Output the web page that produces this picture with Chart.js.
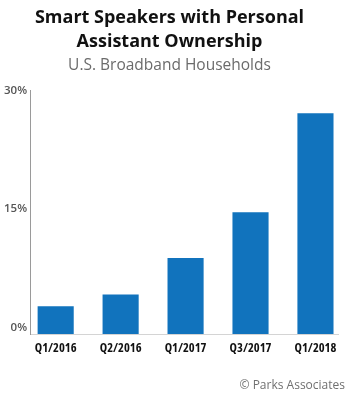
<!DOCTYPE html>
<html>
<head>
<meta charset="utf-8">
<script src="https://cdn.jsdelivr.net/npm/chart.js@4"></script>
<style>
  html, body { margin: 0; padding: 0; background: #ffffff; }
  #wrap { width: 350px; height: 400px; position: relative; }
</style>
</head>
<body>
<div id="wrap"><canvas id="c" width="350" height="400"></canvas></div>
<script>
const categories = ['Q1/2016', 'Q2/2016', 'Q1/2017', 'Q3/2017', 'Q1/2018'];
const ownership = [2.7, 4.2, 8.8, 14.6, 27.1];
const yTicks = [0, 15, 30];
const titleLines = ['Smart Speakers with Personal', 'Assistant Ownership'];
const subtitleText = 'U.S. Broadband Households';
const sourceText = '\u00A9 Parks Associates';

const sourcePlugin = {
  id: 'sourceNote',
  afterDraw(chart) {
    const ctx = chart.ctx;
    ctx.save();
    ctx.font = '12px "Open Sans"';
    ctx.fillStyle = '#707070';
    ctx.textAlign = 'right';
    ctx.textBaseline = 'middle';
    ctx.fillText(sourceText, 345, 386);
    ctx.restore();
  }
};

new Chart(document.getElementById('c'), {
  type: 'bar',
  data: {
    labels: categories,
    datasets: [{
      data: ownership.map((v, i) => ({ x: i, y: v })),
      backgroundColor: '#1173BD',
      borderWidth: 0,
      base: -0.8,
      barPercentage: 0.556,
      categoryPercentage: 1
    }]
  },
  options: {
    responsive: false,
    animation: false,
    devicePixelRatio: 1,
    layout: { padding: { left: 1, right: 12, top: 0, bottom: 37 } },
    plugins: {
      legend: { display: false },
      tooltip: { enabled: false },
      title: {
        display: true,
        text: titleLines,
        color: '#111111',
        font: { family: '"Open Sans"', size: 18, weight: 'bold', lineHeight: 1.33 },
        padding: { top: 6, bottom: 1 }
      },
      subtitle: {
        display: true,
        text: subtitleText,
        color: '#6b6b6b',
        font: { family: '"Open Sans"', size: 15.5, lineHeight: 1.25 },
        padding: { top: 1, bottom: 15 }
      }
    },
    scales: {
      x: {
        type: 'linear',
        offset: false,
        min: -0.394,
        max: 4.347,
        afterBuildTicks: (scale) => { scale.ticks = categories.map((c, i) => ({ value: i })); },
        grid: { display: false, drawTicks: false, offset: false },
        border: { display: true, color: '#d4d4d4', width: 1 },
        ticks: {
          callback: (v) => categories[v],
          color: '#111111',
          font: { family: '"Open Sans"', size: 12.5, weight: 'bold condensed' },
          padding: 7,
          maxRotation: 0,
          autoSkip: false
        }
      },
      y: {
        min: -0.8,
        max: 30,
        afterBuildTicks: (scale) => { scale.ticks = yTicks.map(v => ({ value: v })); },
        grid: { display: false, drawTicks: false },
        border: { display: true, color: '#9a9a9a', width: 1, dash: [1, 2] },
        ticks: {
          callback: (v) => v + '%',
          color: '#555555',
          font: { family: '"Open Sans"', size: 11.5, weight: '600' },
          padding: 3
        }
      }
    }
  },
  plugins: [sourcePlugin]
});
</script>
</body>
</html>
